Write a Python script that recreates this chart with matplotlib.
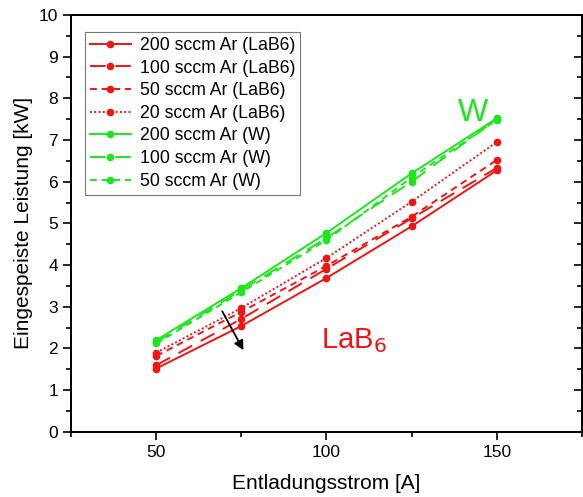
import matplotlib
matplotlib.use("Agg")
import matplotlib.pyplot as plt
from matplotlib.ticker import MultipleLocator

plt.rcParams['font.family'] = ['Liberation Sans', 'DejaVu Sans']

# discharge current [A]
strom = [50, 75, 100, 125, 150]

# input power [kW], LaB6 cathode
lab6_200 = [1.52, 2.54, 3.69, 4.93, 6.27]
lab6_100 = [1.60, 2.71, 3.91, 5.12, 6.33]
lab6_50 = [1.82, 2.88, 3.98, 5.16, 6.52]
lab6_20 = [1.90, 2.97, 4.17, 5.52, 6.95]

# input power [kW], W cathode
w_200 = [2.20, 3.45, 4.77, 6.20, 7.52]
w_100 = [2.15, 3.40, 4.65, 6.00, 7.50]
w_50 = [2.12, 3.35, 4.60, 6.10, 7.48]

red = '#f01414'
green = '#1ee61e'

fig = plt.figure(figsize=(5.83, 4.97), dpi=100)
ax = fig.add_axes([0.122, 0.131, 0.876, 0.839])

series = [
    (lab6_200, red, '-', '200 sccm Ar (LaB6)'),
    (lab6_100, red, (0, (8, 5)), '100 sccm Ar (LaB6)'),
    (lab6_50, red, (0, (3.5, 2.5)), '50 sccm Ar (LaB6)'),
    (lab6_20, red, (0, (1, 1.2)), '20 sccm Ar (LaB6)'),
    (w_200, green, '-', '200 sccm Ar (W)'),
    (w_100, green, (0, (8, 5)), '100 sccm Ar (W)'),
    (w_50, green, (0, (3.5, 2.5)), '50 sccm Ar (W)'),
]
for vals, col, ls, lab in series:
    ax.plot(strom, vals, color=col, linestyle=ls, linewidth=1.4,
            marker='o', markersize=4.5, label=lab)

ax.set_xlim(25, 175)
ax.set_ylim(0, 10)
ax.xaxis.set_major_locator(MultipleLocator(50))
ax.xaxis.set_minor_locator(MultipleLocator(25))
ax.yaxis.set_major_locator(MultipleLocator(1))
ax.yaxis.set_minor_locator(MultipleLocator(0.5))
ax.tick_params(which='major', direction='out', length=6, width=1.2, labelsize=12.5)
ax.tick_params(which='minor', direction='out', length=3.5, width=1.2)
for sp in ax.spines.values():
    sp.set_linewidth(1.3)

# inward ticks on the right side
ax_r = ax.twinx()
ax_r.set_ylim(0, 10)
ax_r.yaxis.set_major_locator(MultipleLocator(1))
ax_r.yaxis.set_minor_locator(MultipleLocator(0.5))
ax_r.tick_params(which='major', direction='in', length=6, width=1.2, labelright=False)
ax_r.tick_params(which='minor', direction='in', length=3.5, width=1.2)
for sp in ax_r.spines.values():
    sp.set_linewidth(1.3)

ax.set_xlabel('Entladungsstrom [A]', fontsize=15, labelpad=10)
ax.set_ylabel('Eingespeiste Leistung [kW]', fontsize=15, labelpad=4)

leg = ax.legend(loc='upper left', bbox_to_anchor=(0.027, 0.96), borderaxespad=0,
                fontsize=12.7, numpoints=1, handlelength=2.3, handletextpad=0.5,
                labelspacing=0.32, frameon=True, fancybox=False, edgecolor='#555555',
                borderpad=0.3)
leg.get_frame().set_linewidth(0.8)

ax.text(143, 7.65, 'W', color=green, fontsize=23, ha='center', va='center')
ax.text(98.5, 2.2, 'LaB$_6$', color=red, fontsize=21, ha='left', va='center')
ax.annotate('', xy=(76, 1.9), xytext=(69, 2.95),
            arrowprops=dict(arrowstyle='-|>', color='black', lw=1.3,
                            mutation_scale=14))

fig.savefig('out.png', dpi=100)
